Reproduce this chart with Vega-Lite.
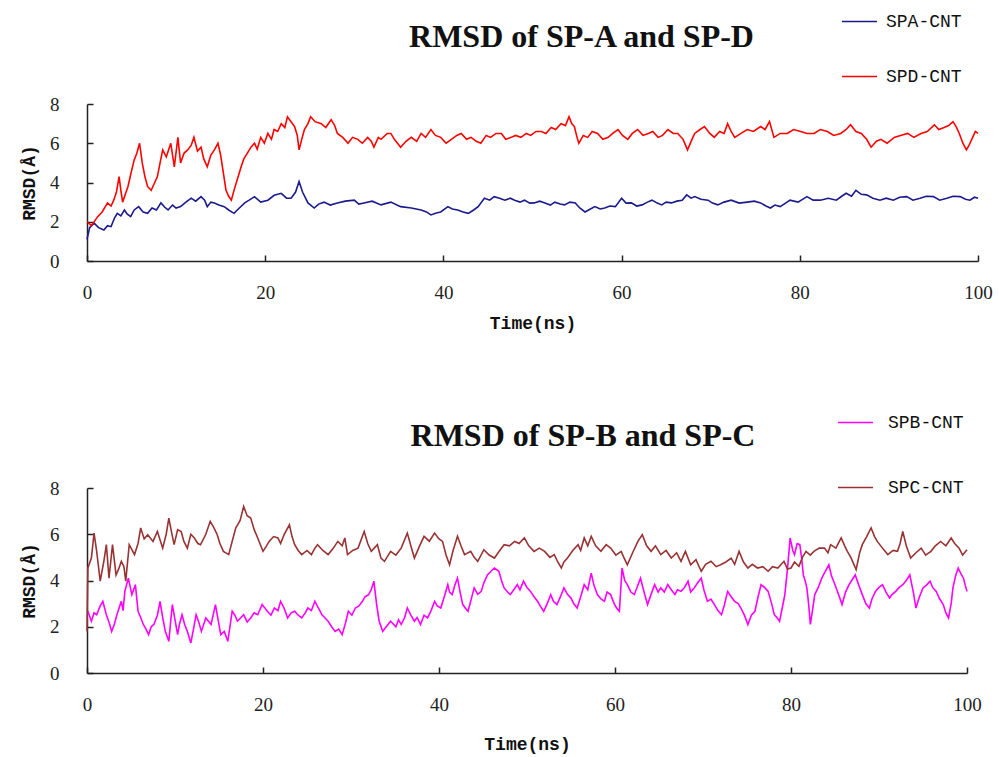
{
"$schema": "https://vega.github.io/schema/vega-lite/v6.json",
"background": "white",
"padding": {"left": 20, "top": 3, "right": 5, "bottom": 5},
"spacing": 72,
"config": {
 "view": {"stroke": null},
 "axis": {"grid": false, "domainColor": "#222", "domainWidth": 1.5, "tickColor": "#222", "tickWidth": 1.5, "tickSize": -6, "labelFont": "Liberation Serif", "labelFontSize": 19, "labelColor": "#222", "titleFont": "Liberation Mono", "titleFontWeight": "bold", "titleFontSize": 18, "titleColor": "#111"},
 "axisX": {"labelPadding": 28, "titlePadding": 12, "labelFlush": false},
 "axisY": {"labelPadding": 34, "titlePadding": 11},
 "title": {"font": "Liberation Serif", "fontSize": 32, "fontWeight": "bold", "color": "#111", "frame": "group"}
},
"resolve": {"scale": {"color": "independent"}},
"vconcat": [
{
 "width": 891, "height": 157,
 "title": {"text": "RMSD of SP-A and SP-D", "dx": 49, "offset": -51},
 "data": {"values": [
{"s":"SPA-CNT","t":0,"v":1.1},{"s":"SPA-CNT","t":0.3,"v":1.7},{"s":"SPA-CNT","t":0.8,"v":1.93},{"s":"SPA-CNT","t":1.3,"v":1.7},{"s":"SPA-CNT","t":1.9,"v":1.58},{"s":"SPA-CNT","t":2.3,"v":1.8},{"s":"SPA-CNT","t":2.7,"v":1.75},{"s":"SPA-CNT","t":3.1,"v":2.2},{"s":"SPA-CNT","t":3.4,"v":2.43},{"s":"SPA-CNT","t":3.8,"v":2.3},{"s":"SPA-CNT","t":4.2,"v":2.6},{"s":"SPA-CNT","t":4.5,"v":2.4},{"s":"SPA-CNT","t":4.9,"v":2.26},{"s":"SPA-CNT","t":5.3,"v":2.6},{"s":"SPA-CNT","t":5.8,"v":2.77},{"s":"SPA-CNT","t":6.3,"v":2.5},{"s":"SPA-CNT","t":6.8,"v":2.43},{"s":"SPA-CNT","t":7.3,"v":2.7},{"s":"SPA-CNT","t":7.8,"v":2.6},{"s":"SPA-CNT","t":8.3,"v":2.96},{"s":"SPA-CNT","t":8.7,"v":2.75},{"s":"SPA-CNT","t":9.1,"v":2.6},{"s":"SPA-CNT","t":9.6,"v":2.85},{"s":"SPA-CNT","t":10.0,"v":2.7},{"s":"SPA-CNT","t":10.5,"v":2.77},{"s":"SPA-CNT","t":11.1,"v":3.0},{"s":"SPA-CNT","t":11.7,"v":3.2},{"s":"SPA-CNT","t":12.2,"v":3.05},{"s":"SPA-CNT","t":12.8,"v":3.28},{"s":"SPA-CNT","t":13.2,"v":3.1},{"s":"SPA-CNT","t":13.5,"v":2.77},{"s":"SPA-CNT","t":13.9,"v":3.0},{"s":"SPA-CNT","t":14.3,"v":2.96},{"s":"SPA-CNT","t":14.8,"v":2.85},{"s":"SPA-CNT","t":15.4,"v":2.77},{"s":"SPA-CNT","t":15.9,"v":2.6},{"s":"SPA-CNT","t":16.5,"v":2.43},{"s":"SPA-CNT","t":17.1,"v":2.7},{"s":"SPA-CNT","t":17.7,"v":2.96},{"s":"SPA-CNT","t":18.2,"v":3.1},{"s":"SPA-CNT","t":18.8,"v":3.28},{"s":"SPA-CNT","t":19.5,"v":3.0},{"s":"SPA-CNT","t":20.3,"v":3.1},{"s":"SPA-CNT","t":21.0,"v":3.35},{"s":"SPA-CNT","t":21.8,"v":3.45},{"s":"SPA-CNT","t":22.4,"v":3.2},{"s":"SPA-CNT","t":22.9,"v":3.2},{"s":"SPA-CNT","t":23.4,"v":3.5},{"s":"SPA-CNT","t":23.8,"v":4.05},{"s":"SPA-CNT","t":24.2,"v":3.5},{"s":"SPA-CNT","t":24.8,"v":2.96},{"s":"SPA-CNT","t":25.5,"v":2.7},{"s":"SPA-CNT","t":26.0,"v":2.9},{"s":"SPA-CNT","t":26.6,"v":3.0},{"s":"SPA-CNT","t":27.3,"v":2.85},{"s":"SPA-CNT","t":28.1,"v":2.96},{"s":"SPA-CNT","t":29.0,"v":3.05},{"s":"SPA-CNT","t":30.0,"v":3.1},{"s":"SPA-CNT","t":30.5,"v":2.9},{"s":"SPA-CNT","t":31.1,"v":2.96},{"s":"SPA-CNT","t":32.0,"v":3.05},{"s":"SPA-CNT","t":33.0,"v":2.86},{"s":"SPA-CNT","t":34.1,"v":3.0},{"s":"SPA-CNT","t":35.2,"v":2.77},{"s":"SPA-CNT","t":36.4,"v":2.7},{"s":"SPA-CNT","t":37.5,"v":2.6},{"s":"SPA-CNT","t":38.1,"v":2.5},{"s":"SPA-CNT","t":38.6,"v":2.35},{"s":"SPA-CNT","t":39.2,"v":2.45},{"s":"SPA-CNT","t":39.7,"v":2.5},{"s":"SPA-CNT","t":40.5,"v":2.77},{"s":"SPA-CNT","t":41.0,"v":2.65},{"s":"SPA-CNT","t":41.6,"v":2.6},{"s":"SPA-CNT","t":42.2,"v":2.5},{"s":"SPA-CNT","t":42.8,"v":2.43},{"s":"SPA-CNT","t":43.4,"v":2.6},{"s":"SPA-CNT","t":43.9,"v":2.77},{"s":"SPA-CNT","t":44.6,"v":3.2},{"s":"SPA-CNT","t":45.2,"v":3.1},{"s":"SPA-CNT","t":45.7,"v":3.28},{"s":"SPA-CNT","t":46.3,"v":3.2},{"s":"SPA-CNT","t":46.9,"v":3.1},{"s":"SPA-CNT","t":47.5,"v":3.2},{"s":"SPA-CNT","t":48.0,"v":3.1},{"s":"SPA-CNT","t":48.6,"v":3.0},{"s":"SPA-CNT","t":49.1,"v":3.1},{"s":"SPA-CNT","t":49.7,"v":2.95},{"s":"SPA-CNT","t":50.2,"v":2.96},{"s":"SPA-CNT","t":50.8,"v":3.05},{"s":"SPA-CNT","t":51.4,"v":2.96},{"s":"SPA-CNT","t":52.0,"v":2.85},{"s":"SPA-CNT","t":52.5,"v":3.0},{"s":"SPA-CNT","t":53.1,"v":2.9},{"s":"SPA-CNT","t":53.6,"v":2.86},{"s":"SPA-CNT","t":54.2,"v":3.0},{"s":"SPA-CNT","t":54.8,"v":2.96},{"s":"SPA-CNT","t":55.3,"v":2.7},{"s":"SPA-CNT","t":55.9,"v":2.5},{"s":"SPA-CNT","t":56.5,"v":2.65},{"s":"SPA-CNT","t":57.0,"v":2.77},{"s":"SPA-CNT","t":57.6,"v":2.65},{"s":"SPA-CNT","t":58.1,"v":2.7},{"s":"SPA-CNT","t":58.7,"v":2.8},{"s":"SPA-CNT","t":59.3,"v":2.77},{"s":"SPA-CNT","t":60.0,"v":3.2},{"s":"SPA-CNT","t":60.5,"v":2.95},{"s":"SPA-CNT","t":61.1,"v":2.96},{"s":"SPA-CNT","t":61.7,"v":2.8},{"s":"SPA-CNT","t":62.3,"v":2.86},{"s":"SPA-CNT","t":62.9,"v":3.0},{"s":"SPA-CNT","t":63.4,"v":3.1},{"s":"SPA-CNT","t":64.0,"v":2.95},{"s":"SPA-CNT","t":64.5,"v":2.86},{"s":"SPA-CNT","t":65.0,"v":3.0},{"s":"SPA-CNT","t":65.6,"v":2.96},{"s":"SPA-CNT","t":66.2,"v":3.05},{"s":"SPA-CNT","t":66.8,"v":3.1},{"s":"SPA-CNT","t":67.3,"v":3.37},{"s":"SPA-CNT","t":67.8,"v":3.2},{"s":"SPA-CNT","t":68.2,"v":3.28},{"s":"SPA-CNT","t":68.9,"v":3.15},{"s":"SPA-CNT","t":69.7,"v":3.1},{"s":"SPA-CNT","t":70.2,"v":2.95},{"s":"SPA-CNT","t":70.8,"v":2.86},{"s":"SPA-CNT","t":71.5,"v":3.0},{"s":"SPA-CNT","t":72.3,"v":3.1},{"s":"SPA-CNT","t":73.2,"v":2.95},{"s":"SPA-CNT","t":74.1,"v":3.0},{"s":"SPA-CNT","t":74.9,"v":3.05},{"s":"SPA-CNT","t":75.6,"v":2.96},{"s":"SPA-CNT","t":76.2,"v":2.8},{"s":"SPA-CNT","t":76.7,"v":2.7},{"s":"SPA-CNT","t":77.2,"v":2.85},{"s":"SPA-CNT","t":77.8,"v":2.77},{"s":"SPA-CNT","t":78.4,"v":2.95},{"s":"SPA-CNT","t":78.9,"v":3.1},{"s":"SPA-CNT","t":79.8,"v":3.0},{"s":"SPA-CNT","t":80.8,"v":3.28},{"s":"SPA-CNT","t":81.5,"v":3.1},{"s":"SPA-CNT","t":82.3,"v":3.1},{"s":"SPA-CNT","t":83.2,"v":3.2},{"s":"SPA-CNT","t":84.1,"v":3.1},{"s":"SPA-CNT","t":84.7,"v":3.3},{"s":"SPA-CNT","t":85.2,"v":3.45},{"s":"SPA-CNT","t":85.8,"v":3.3},{"s":"SPA-CNT","t":86.3,"v":3.6},{"s":"SPA-CNT","t":86.9,"v":3.4},{"s":"SPA-CNT","t":87.5,"v":3.37},{"s":"SPA-CNT","t":88.2,"v":3.2},{"s":"SPA-CNT","t":89.0,"v":3.1},{"s":"SPA-CNT","t":89.7,"v":3.2},{"s":"SPA-CNT","t":90.5,"v":3.1},{"s":"SPA-CNT","t":91.2,"v":3.25},{"s":"SPA-CNT","t":92.0,"v":3.28},{"s":"SPA-CNT","t":92.7,"v":3.1},{"s":"SPA-CNT","t":93.5,"v":3.2},{"s":"SPA-CNT","t":94.2,"v":3.3},{"s":"SPA-CNT","t":95.0,"v":3.28},{"s":"SPA-CNT","t":95.7,"v":3.1},{"s":"SPA-CNT","t":96.5,"v":3.2},{"s":"SPA-CNT","t":97.2,"v":3.3},{"s":"SPA-CNT","t":98.0,"v":3.28},{"s":"SPA-CNT","t":98.6,"v":3.15},{"s":"SPA-CNT","t":99.1,"v":3.1},{"s":"SPA-CNT","t":99.6,"v":3.25},{"s":"SPA-CNT","t":100,"v":3.2},
{"s":"SPD-CNT","t":0,"v":2.0},{"s":"SPD-CNT","t":0.5,"v":1.8},{"s":"SPD-CNT","t":1.2,"v":2.26},{"s":"SPD-CNT","t":1.7,"v":2.5},{"s":"SPD-CNT","t":2.3,"v":2.96},{"s":"SPD-CNT","t":2.7,"v":2.8},{"s":"SPD-CNT","t":3.0,"v":3.1},{"s":"SPD-CNT","t":3.3,"v":3.5},{"s":"SPD-CNT","t":3.6,"v":4.3},{"s":"SPD-CNT","t":3.8,"v":3.6},{"s":"SPD-CNT","t":4.0,"v":3.0},{"s":"SPD-CNT","t":4.3,"v":3.4},{"s":"SPD-CNT","t":4.6,"v":3.8},{"s":"SPD-CNT","t":5.0,"v":4.6},{"s":"SPD-CNT","t":5.3,"v":5.15},{"s":"SPD-CNT","t":5.6,"v":5.5},{"s":"SPD-CNT","t":5.9,"v":6.0},{"s":"SPD-CNT","t":6.2,"v":5.0},{"s":"SPD-CNT","t":6.5,"v":4.3},{"s":"SPD-CNT","t":6.8,"v":3.8},{"s":"SPD-CNT","t":7.2,"v":3.6},{"s":"SPD-CNT","t":7.5,"v":3.9},{"s":"SPD-CNT","t":7.9,"v":4.3},{"s":"SPD-CNT","t":8.2,"v":5.0},{"s":"SPD-CNT","t":8.5,"v":5.66},{"s":"SPD-CNT","t":8.9,"v":5.3},{"s":"SPD-CNT","t":9.4,"v":6.0},{"s":"SPD-CNT","t":9.8,"v":4.8},{"s":"SPD-CNT","t":10.2,"v":6.3},{"s":"SPD-CNT","t":10.5,"v":5.0},{"s":"SPD-CNT","t":10.9,"v":5.5},{"s":"SPD-CNT","t":11.3,"v":5.66},{"s":"SPD-CNT","t":11.7,"v":5.9},{"s":"SPD-CNT","t":12.0,"v":6.3},{"s":"SPD-CNT","t":12.4,"v":5.6},{"s":"SPD-CNT","t":12.8,"v":5.8},{"s":"SPD-CNT","t":13.1,"v":5.2},{"s":"SPD-CNT","t":13.5,"v":4.8},{"s":"SPD-CNT","t":13.9,"v":5.4},{"s":"SPD-CNT","t":14.3,"v":5.66},{"s":"SPD-CNT","t":14.7,"v":6.0},{"s":"SPD-CNT","t":15.0,"v":5.4},{"s":"SPD-CNT","t":15.2,"v":4.8},{"s":"SPD-CNT","t":15.6,"v":3.6},{"s":"SPD-CNT","t":15.9,"v":3.3},{"s":"SPD-CNT","t":16.2,"v":3.1},{"s":"SPD-CNT","t":16.5,"v":3.6},{"s":"SPD-CNT","t":16.9,"v":4.2},{"s":"SPD-CNT","t":17.3,"v":4.8},{"s":"SPD-CNT","t":17.6,"v":5.2},{"s":"SPD-CNT","t":18.0,"v":5.5},{"s":"SPD-CNT","t":18.4,"v":5.8},{"s":"SPD-CNT","t":18.8,"v":6.0},{"s":"SPD-CNT","t":19.1,"v":5.7},{"s":"SPD-CNT","t":19.5,"v":6.3},{"s":"SPD-CNT","t":19.9,"v":6.0},{"s":"SPD-CNT","t":20.3,"v":6.5},{"s":"SPD-CNT","t":20.7,"v":6.2},{"s":"SPD-CNT","t":21.0,"v":6.7},{"s":"SPD-CNT","t":21.4,"v":6.6},{"s":"SPD-CNT","t":21.8,"v":7.0},{"s":"SPD-CNT","t":22.2,"v":6.8},{"s":"SPD-CNT","t":22.5,"v":7.35},{"s":"SPD-CNT","t":22.9,"v":7.1},{"s":"SPD-CNT","t":23.3,"v":6.85},{"s":"SPD-CNT","t":23.6,"v":6.4},{"s":"SPD-CNT","t":23.8,"v":5.66},{"s":"SPD-CNT","t":24.1,"v":6.2},{"s":"SPD-CNT","t":24.4,"v":6.7},{"s":"SPD-CNT","t":24.8,"v":7.0},{"s":"SPD-CNT","t":25.1,"v":7.35},{"s":"SPD-CNT","t":25.6,"v":7.1},{"s":"SPD-CNT","t":26.3,"v":7.0},{"s":"SPD-CNT","t":26.8,"v":6.8},{"s":"SPD-CNT","t":27.4,"v":7.2},{"s":"SPD-CNT","t":27.8,"v":6.9},{"s":"SPD-CNT","t":28.1,"v":6.5},{"s":"SPD-CNT","t":28.7,"v":6.3},{"s":"SPD-CNT","t":29.3,"v":6.0},{"s":"SPD-CNT","t":29.8,"v":6.3},{"s":"SPD-CNT","t":30.4,"v":6.2},{"s":"SPD-CNT","t":30.9,"v":6.0},{"s":"SPD-CNT","t":31.5,"v":6.3},{"s":"SPD-CNT","t":31.9,"v":6.1},{"s":"SPD-CNT","t":32.2,"v":5.8},{"s":"SPD-CNT","t":32.7,"v":6.3},{"s":"SPD-CNT","t":33.0,"v":6.2},{"s":"SPD-CNT","t":33.7,"v":6.5},{"s":"SPD-CNT","t":34.1,"v":6.5},{"s":"SPD-CNT","t":34.5,"v":6.2},{"s":"SPD-CNT","t":35.2,"v":5.8},{"s":"SPD-CNT","t":35.8,"v":6.1},{"s":"SPD-CNT","t":36.4,"v":6.3},{"s":"SPD-CNT","t":37.0,"v":6.1},{"s":"SPD-CNT","t":37.5,"v":6.5},{"s":"SPD-CNT","t":38.0,"v":6.3},{"s":"SPD-CNT","t":38.6,"v":6.7},{"s":"SPD-CNT","t":39.1,"v":6.4},{"s":"SPD-CNT","t":39.7,"v":6.3},{"s":"SPD-CNT","t":40.3,"v":6.0},{"s":"SPD-CNT","t":40.9,"v":6.2},{"s":"SPD-CNT","t":41.5,"v":6.4},{"s":"SPD-CNT","t":42.0,"v":6.5},{"s":"SPD-CNT","t":42.6,"v":6.2},{"s":"SPD-CNT","t":43.1,"v":6.3},{"s":"SPD-CNT","t":43.7,"v":6.1},{"s":"SPD-CNT","t":44.2,"v":6.0},{"s":"SPD-CNT","t":44.8,"v":6.4},{"s":"SPD-CNT","t":45.3,"v":6.3},{"s":"SPD-CNT","t":45.9,"v":6.5},{"s":"SPD-CNT","t":46.5,"v":6.5},{"s":"SPD-CNT","t":47.0,"v":6.2},{"s":"SPD-CNT","t":47.6,"v":6.3},{"s":"SPD-CNT","t":48.1,"v":6.4},{"s":"SPD-CNT","t":48.7,"v":6.3},{"s":"SPD-CNT","t":49.3,"v":6.5},{"s":"SPD-CNT","t":49.8,"v":6.4},{"s":"SPD-CNT","t":50.4,"v":6.6},{"s":"SPD-CNT","t":51.0,"v":6.6},{"s":"SPD-CNT","t":51.5,"v":6.5},{"s":"SPD-CNT","t":52.1,"v":6.8},{"s":"SPD-CNT","t":52.6,"v":6.7},{"s":"SPD-CNT","t":53.2,"v":7.0},{"s":"SPD-CNT","t":53.7,"v":6.9},{"s":"SPD-CNT","t":54.1,"v":7.35},{"s":"SPD-CNT","t":54.4,"v":7.0},{"s":"SPD-CNT","t":54.7,"v":6.85},{"s":"SPD-CNT","t":55.0,"v":6.3},{"s":"SPD-CNT","t":55.2,"v":6.0},{"s":"SPD-CNT","t":55.7,"v":6.4},{"s":"SPD-CNT","t":56.2,"v":6.3},{"s":"SPD-CNT","t":56.7,"v":6.6},{"s":"SPD-CNT","t":57.3,"v":6.5},{"s":"SPD-CNT","t":57.9,"v":6.2},{"s":"SPD-CNT","t":58.5,"v":6.3},{"s":"SPD-CNT","t":59.0,"v":6.5},{"s":"SPD-CNT","t":59.6,"v":6.7},{"s":"SPD-CNT","t":60.1,"v":6.4},{"s":"SPD-CNT","t":60.7,"v":6.2},{"s":"SPD-CNT","t":61.2,"v":6.5},{"s":"SPD-CNT","t":61.8,"v":6.7},{"s":"SPD-CNT","t":62.4,"v":6.4},{"s":"SPD-CNT","t":63.0,"v":6.5},{"s":"SPD-CNT","t":63.5,"v":6.6},{"s":"SPD-CNT","t":64.1,"v":6.3},{"s":"SPD-CNT","t":64.6,"v":6.4},{"s":"SPD-CNT","t":65.2,"v":6.7},{"s":"SPD-CNT","t":65.8,"v":6.5},{"s":"SPD-CNT","t":66.3,"v":6.5},{"s":"SPD-CNT","t":66.9,"v":6.2},{"s":"SPD-CNT","t":67.4,"v":5.66},{"s":"SPD-CNT","t":67.9,"v":6.2},{"s":"SPD-CNT","t":68.2,"v":6.5},{"s":"SPD-CNT","t":68.8,"v":6.7},{"s":"SPD-CNT","t":69.3,"v":6.85},{"s":"SPD-CNT","t":69.9,"v":6.5},{"s":"SPD-CNT","t":70.4,"v":6.3},{"s":"SPD-CNT","t":71.0,"v":6.6},{"s":"SPD-CNT","t":71.5,"v":6.5},{"s":"SPD-CNT","t":71.9,"v":7.0},{"s":"SPD-CNT","t":72.3,"v":6.6},{"s":"SPD-CNT","t":72.7,"v":6.3},{"s":"SPD-CNT","t":73.4,"v":6.5},{"s":"SPD-CNT","t":74.1,"v":6.7},{"s":"SPD-CNT","t":74.8,"v":6.6},{"s":"SPD-CNT","t":75.6,"v":6.85},{"s":"SPD-CNT","t":76.1,"v":6.7},{"s":"SPD-CNT","t":76.6,"v":7.1},{"s":"SPD-CNT","t":77.1,"v":6.3},{"s":"SPD-CNT","t":77.8,"v":6.5},{"s":"SPD-CNT","t":78.6,"v":6.5},{"s":"SPD-CNT","t":79.3,"v":6.7},{"s":"SPD-CNT","t":80.1,"v":6.6},{"s":"SPD-CNT","t":80.8,"v":6.5},{"s":"SPD-CNT","t":81.6,"v":6.5},{"s":"SPD-CNT","t":82.3,"v":6.7},{"s":"SPD-CNT","t":83.1,"v":6.6},{"s":"SPD-CNT","t":83.8,"v":6.4},{"s":"SPD-CNT","t":84.6,"v":6.5},{"s":"SPD-CNT","t":85.2,"v":6.7},{"s":"SPD-CNT","t":85.7,"v":6.94},{"s":"SPD-CNT","t":86.3,"v":6.6},{"s":"SPD-CNT","t":86.9,"v":6.5},{"s":"SPD-CNT","t":87.5,"v":6.2},{"s":"SPD-CNT","t":88.0,"v":5.8},{"s":"SPD-CNT","t":88.6,"v":6.1},{"s":"SPD-CNT","t":89.1,"v":6.2},{"s":"SPD-CNT","t":89.8,"v":6.0},{"s":"SPD-CNT","t":90.6,"v":6.3},{"s":"SPD-CNT","t":91.3,"v":6.4},{"s":"SPD-CNT","t":92.1,"v":6.5},{"s":"SPD-CNT","t":92.8,"v":6.3},{"s":"SPD-CNT","t":93.6,"v":6.5},{"s":"SPD-CNT","t":94.3,"v":6.6},{"s":"SPD-CNT","t":95.1,"v":6.94},{"s":"SPD-CNT","t":95.6,"v":6.7},{"s":"SPD-CNT","t":96.2,"v":6.8},{"s":"SPD-CNT","t":96.7,"v":6.9},{"s":"SPD-CNT","t":97.2,"v":7.1},{"s":"SPD-CNT","t":97.6,"v":6.8},{"s":"SPD-CNT","t":97.9,"v":6.5},{"s":"SPD-CNT","t":98.3,"v":6.0},{"s":"SPD-CNT","t":98.7,"v":5.66},{"s":"SPD-CNT","t":99.0,"v":5.9},{"s":"SPD-CNT","t":99.4,"v":6.3},{"s":"SPD-CNT","t":99.7,"v":6.6},{"s":"SPD-CNT","t":100,"v":6.5}
 ]},
 "mark": {"type": "line", "strokeWidth": 1.6},
 "encoding": {
  "x": {"field": "t", "type": "quantitative", "scale": {"domain": [0, 100], "nice": false}, "axis": {"title": "Time(ns)", "values": [0, 20, 40, 60, 80, 100]}},
  "y": {"field": "v", "type": "quantitative", "scale": {"domain": [0, 8], "nice": false}, "axis": {"title": "RMSD(Å)", "values": [0, 2, 4, 6, 8]}},
  "color": {"field": "s", "type": "nominal", "scale": {"domain": ["SPA-CNT", "SPD-CNT"], "range": ["#1a1a8c", "#ff0000"]},
   "legend": {"orient": "none", "legendX": 754, "legendY": -101, "title": null, "symbolType": "stroke", "symbolSize": 1225, "symbolStrokeWidth": 1.5, "rowPadding": 27, "labelFont": "Liberation Mono", "labelFontSize": 18, "labelColor": "#111", "labelOffset": 8, "padding": 0}}
 }
},
{
 "width": 880, "height": 185,
 "title": {"text": "RMSD of SP-B and SP-C", "dx": 56, "offset": -49},
 "data": {"values": [
{"s":"SPB-CNT","t":0,"v":2.7},{"s":"SPB-CNT","t":0.1,"v":2.67},{"s":"SPB-CNT","t":0.5,"v":2.24},{"s":"SPB-CNT","t":0.8,"v":2.6},{"s":"SPB-CNT","t":1.1,"v":2.52},{"s":"SPB-CNT","t":1.5,"v":2.9},{"s":"SPB-CNT","t":1.8,"v":3.1},{"s":"SPB-CNT","t":2.2,"v":2.52},{"s":"SPB-CNT","t":2.5,"v":2.2},{"s":"SPB-CNT","t":2.8,"v":1.8},{"s":"SPB-CNT","t":3.1,"v":2.1},{"s":"SPB-CNT","t":3.4,"v":2.52},{"s":"SPB-CNT","t":3.9,"v":3.1},{"s":"SPB-CNT","t":4.1,"v":2.7},{"s":"SPB-CNT","t":4.3,"v":3.53},{"s":"SPB-CNT","t":4.7,"v":4.1},{"s":"SPB-CNT","t":5.1,"v":3.39},{"s":"SPB-CNT","t":5.5,"v":3.82},{"s":"SPB-CNT","t":5.8,"v":2.67},{"s":"SPB-CNT","t":6.1,"v":2.4},{"s":"SPB-CNT","t":6.4,"v":2.1},{"s":"SPB-CNT","t":6.7,"v":1.9},{"s":"SPB-CNT","t":7.0,"v":1.66},{"s":"SPB-CNT","t":7.3,"v":2.0},{"s":"SPB-CNT","t":7.6,"v":2.1},{"s":"SPB-CNT","t":8.0,"v":2.5},{"s":"SPB-CNT","t":8.3,"v":3.1},{"s":"SPB-CNT","t":8.6,"v":2.4},{"s":"SPB-CNT","t":8.9,"v":1.8},{"s":"SPB-CNT","t":9.3,"v":1.37},{"s":"SPB-CNT","t":9.5,"v":2.2},{"s":"SPB-CNT","t":9.7,"v":2.96},{"s":"SPB-CNT","t":10.0,"v":2.3},{"s":"SPB-CNT","t":10.3,"v":1.66},{"s":"SPB-CNT","t":10.5,"v":2.1},{"s":"SPB-CNT","t":10.8,"v":2.52},{"s":"SPB-CNT","t":11.1,"v":2.1},{"s":"SPB-CNT","t":11.4,"v":1.8},{"s":"SPB-CNT","t":11.8,"v":1.3},{"s":"SPB-CNT","t":12.1,"v":1.9},{"s":"SPB-CNT","t":12.4,"v":2.52},{"s":"SPB-CNT","t":12.7,"v":2.2},{"s":"SPB-CNT","t":13.0,"v":1.8},{"s":"SPB-CNT","t":13.5,"v":2.38},{"s":"SPB-CNT","t":14.1,"v":2.1},{"s":"SPB-CNT","t":14.6,"v":2.96},{"s":"SPB-CNT","t":14.9,"v":2.3},{"s":"SPB-CNT","t":15.2,"v":1.66},{"s":"SPB-CNT","t":15.6,"v":1.8},{"s":"SPB-CNT","t":16.0,"v":1.37},{"s":"SPB-CNT","t":16.5,"v":2.67},{"s":"SPB-CNT","t":16.8,"v":2.5},{"s":"SPB-CNT","t":17.1,"v":2.24},{"s":"SPB-CNT","t":17.5,"v":2.4},{"s":"SPB-CNT","t":17.8,"v":2.52},{"s":"SPB-CNT","t":18.2,"v":2.2},{"s":"SPB-CNT","t":18.6,"v":2.38},{"s":"SPB-CNT","t":19.0,"v":2.6},{"s":"SPB-CNT","t":19.4,"v":2.52},{"s":"SPB-CNT","t":19.9,"v":2.96},{"s":"SPB-CNT","t":20.5,"v":2.67},{"s":"SPB-CNT","t":20.9,"v":2.5},{"s":"SPB-CNT","t":21.3,"v":2.81},{"s":"SPB-CNT","t":21.7,"v":2.7},{"s":"SPB-CNT","t":22.0,"v":3.1},{"s":"SPB-CNT","t":22.4,"v":2.8},{"s":"SPB-CNT","t":22.8,"v":2.38},{"s":"SPB-CNT","t":23.2,"v":2.6},{"s":"SPB-CNT","t":23.6,"v":2.67},{"s":"SPB-CNT","t":24.0,"v":2.5},{"s":"SPB-CNT","t":24.4,"v":2.38},{"s":"SPB-CNT","t":24.8,"v":2.6},{"s":"SPB-CNT","t":25.1,"v":2.81},{"s":"SPB-CNT","t":25.5,"v":2.7},{"s":"SPB-CNT","t":25.9,"v":3.1},{"s":"SPB-CNT","t":26.3,"v":2.8},{"s":"SPB-CNT","t":26.7,"v":2.52},{"s":"SPB-CNT","t":27.0,"v":2.4},{"s":"SPB-CNT","t":27.4,"v":2.24},{"s":"SPB-CNT","t":27.8,"v":2.0},{"s":"SPB-CNT","t":28.2,"v":1.8},{"s":"SPB-CNT","t":28.6,"v":1.9},{"s":"SPB-CNT","t":29.0,"v":1.66},{"s":"SPB-CNT","t":29.4,"v":2.2},{"s":"SPB-CNT","t":29.7,"v":2.67},{"s":"SPB-CNT","t":30.1,"v":2.5},{"s":"SPB-CNT","t":30.5,"v":2.81},{"s":"SPB-CNT","t":30.9,"v":2.9},{"s":"SPB-CNT","t":31.3,"v":3.1},{"s":"SPB-CNT","t":31.6,"v":3.3},{"s":"SPB-CNT","t":32.0,"v":3.39},{"s":"SPB-CNT","t":32.3,"v":3.6},{"s":"SPB-CNT","t":32.6,"v":3.97},{"s":"SPB-CNT","t":32.9,"v":3.0},{"s":"SPB-CNT","t":33.2,"v":2.24},{"s":"SPB-CNT","t":33.6,"v":1.8},{"s":"SPB-CNT","t":33.9,"v":1.95},{"s":"SPB-CNT","t":34.2,"v":2.1},{"s":"SPB-CNT","t":34.5,"v":2.24},{"s":"SPB-CNT","t":35.1,"v":2.0},{"s":"SPB-CNT","t":35.4,"v":2.3},{"s":"SPB-CNT","t":35.7,"v":2.1},{"s":"SPB-CNT","t":36.1,"v":2.4},{"s":"SPB-CNT","t":36.4,"v":2.81},{"s":"SPB-CNT","t":36.8,"v":2.5},{"s":"SPB-CNT","t":37.2,"v":2.24},{"s":"SPB-CNT","t":37.5,"v":2.4},{"s":"SPB-CNT","t":37.9,"v":2.1},{"s":"SPB-CNT","t":38.3,"v":2.5},{"s":"SPB-CNT","t":38.7,"v":2.38},{"s":"SPB-CNT","t":39.1,"v":2.7},{"s":"SPB-CNT","t":39.5,"v":3.1},{"s":"SPB-CNT","t":39.8,"v":2.9},{"s":"SPB-CNT","t":40.2,"v":2.81},{"s":"SPB-CNT","t":40.6,"v":3.3},{"s":"SPB-CNT","t":41.0,"v":3.82},{"s":"SPB-CNT","t":41.2,"v":3.5},{"s":"SPB-CNT","t":41.5,"v":3.39},{"s":"SPB-CNT","t":41.8,"v":3.8},{"s":"SPB-CNT","t":42.1,"v":4.1},{"s":"SPB-CNT","t":42.4,"v":3.5},{"s":"SPB-CNT","t":42.7,"v":2.96},{"s":"SPB-CNT","t":43.0,"v":2.8},{"s":"SPB-CNT","t":43.3,"v":2.67},{"s":"SPB-CNT","t":43.6,"v":3.1},{"s":"SPB-CNT","t":44.0,"v":3.68},{"s":"SPB-CNT","t":44.4,"v":3.4},{"s":"SPB-CNT","t":44.8,"v":3.53},{"s":"SPB-CNT","t":45.1,"v":3.9},{"s":"SPB-CNT","t":45.5,"v":4.24},{"s":"SPB-CNT","t":45.9,"v":4.4},{"s":"SPB-CNT","t":46.3,"v":4.54},{"s":"SPB-CNT","t":46.8,"v":4.4},{"s":"SPB-CNT","t":47.1,"v":4.0},{"s":"SPB-CNT","t":47.4,"v":3.68},{"s":"SPB-CNT","t":47.8,"v":3.5},{"s":"SPB-CNT","t":48.1,"v":3.39},{"s":"SPB-CNT","t":48.5,"v":3.6},{"s":"SPB-CNT","t":48.9,"v":3.82},{"s":"SPB-CNT","t":49.2,"v":3.6},{"s":"SPB-CNT","t":49.6,"v":3.97},{"s":"SPB-CNT","t":50.0,"v":3.7},{"s":"SPB-CNT","t":50.4,"v":3.53},{"s":"SPB-CNT","t":50.8,"v":3.3},{"s":"SPB-CNT","t":51.2,"v":3.1},{"s":"SPB-CNT","t":51.5,"v":2.9},{"s":"SPB-CNT","t":51.9,"v":2.67},{"s":"SPB-CNT","t":52.3,"v":3.0},{"s":"SPB-CNT","t":52.7,"v":3.39},{"s":"SPB-CNT","t":53.0,"v":3.1},{"s":"SPB-CNT","t":53.4,"v":2.96},{"s":"SPB-CNT","t":53.8,"v":3.3},{"s":"SPB-CNT","t":54.2,"v":3.68},{"s":"SPB-CNT","t":54.6,"v":3.4},{"s":"SPB-CNT","t":55.0,"v":3.24},{"s":"SPB-CNT","t":55.3,"v":3.0},{"s":"SPB-CNT","t":55.7,"v":2.81},{"s":"SPB-CNT","t":56.1,"v":3.3},{"s":"SPB-CNT","t":56.5,"v":3.82},{"s":"SPB-CNT","t":56.9,"v":3.6},{"s":"SPB-CNT","t":57.3,"v":4.32},{"s":"SPB-CNT","t":57.6,"v":3.8},{"s":"SPB-CNT","t":58.0,"v":3.39},{"s":"SPB-CNT","t":58.4,"v":3.2},{"s":"SPB-CNT","t":58.8,"v":3.1},{"s":"SPB-CNT","t":59.1,"v":3.5},{"s":"SPB-CNT","t":59.5,"v":3.39},{"s":"SPB-CNT","t":59.9,"v":3.0},{"s":"SPB-CNT","t":60.2,"v":2.8},{"s":"SPB-CNT","t":60.5,"v":2.67},{"s":"SPB-CNT","t":60.8,"v":4.54},{"s":"SPB-CNT","t":61.1,"v":4.0},{"s":"SPB-CNT","t":61.4,"v":3.82},{"s":"SPB-CNT","t":61.8,"v":3.5},{"s":"SPB-CNT","t":62.2,"v":3.39},{"s":"SPB-CNT","t":62.5,"v":3.7},{"s":"SPB-CNT","t":62.9,"v":4.1},{"s":"SPB-CNT","t":63.3,"v":3.5},{"s":"SPB-CNT","t":63.7,"v":2.96},{"s":"SPB-CNT","t":64.1,"v":3.4},{"s":"SPB-CNT","t":64.5,"v":3.82},{"s":"SPB-CNT","t":64.9,"v":3.5},{"s":"SPB-CNT","t":65.2,"v":3.68},{"s":"SPB-CNT","t":65.6,"v":3.5},{"s":"SPB-CNT","t":66.0,"v":3.82},{"s":"SPB-CNT","t":66.4,"v":3.6},{"s":"SPB-CNT","t":66.8,"v":3.39},{"s":"SPB-CNT","t":67.1,"v":3.6},{"s":"SPB-CNT","t":67.5,"v":3.53},{"s":"SPB-CNT","t":67.9,"v":3.7},{"s":"SPB-CNT","t":68.3,"v":3.97},{"s":"SPB-CNT","t":68.6,"v":3.5},{"s":"SPB-CNT","t":69.0,"v":3.68},{"s":"SPB-CNT","t":69.4,"v":3.9},{"s":"SPB-CNT","t":69.8,"v":4.1},{"s":"SPB-CNT","t":70.1,"v":3.6},{"s":"SPB-CNT","t":70.5,"v":3.1},{"s":"SPB-CNT","t":70.9,"v":3.2},{"s":"SPB-CNT","t":71.3,"v":2.96},{"s":"SPB-CNT","t":71.7,"v":2.7},{"s":"SPB-CNT","t":72.1,"v":2.52},{"s":"SPB-CNT","t":72.4,"v":2.9},{"s":"SPB-CNT","t":72.8,"v":3.53},{"s":"SPB-CNT","t":73.2,"v":3.3},{"s":"SPB-CNT","t":73.6,"v":3.1},{"s":"SPB-CNT","t":74.0,"v":3.0},{"s":"SPB-CNT","t":74.3,"v":2.81},{"s":"SPB-CNT","t":74.7,"v":2.5},{"s":"SPB-CNT","t":75.1,"v":2.1},{"s":"SPB-CNT","t":75.5,"v":2.5},{"s":"SPB-CNT","t":75.9,"v":2.67},{"s":"SPB-CNT","t":76.2,"v":3.2},{"s":"SPB-CNT","t":76.6,"v":3.82},{"s":"SPB-CNT","t":77.0,"v":3.7},{"s":"SPB-CNT","t":77.4,"v":3.53},{"s":"SPB-CNT","t":77.8,"v":3.0},{"s":"SPB-CNT","t":78.1,"v":2.52},{"s":"SPB-CNT","t":78.4,"v":2.4},{"s":"SPB-CNT","t":78.7,"v":2.24},{"s":"SPB-CNT","t":79.0,"v":2.8},{"s":"SPB-CNT","t":79.3,"v":3.39},{"s":"SPB-CNT","t":79.6,"v":4.5},{"s":"SPB-CNT","t":79.9,"v":5.84},{"s":"SPB-CNT","t":80.2,"v":5.3},{"s":"SPB-CNT","t":80.4,"v":5.12},{"s":"SPB-CNT","t":80.7,"v":5.6},{"s":"SPB-CNT","t":81.0,"v":5.55},{"s":"SPB-CNT","t":81.2,"v":5.0},{"s":"SPB-CNT","t":81.4,"v":4.24},{"s":"SPB-CNT","t":81.6,"v":4.0},{"s":"SPB-CNT","t":81.8,"v":3.68},{"s":"SPB-CNT","t":82.0,"v":3.0},{"s":"SPB-CNT","t":82.2,"v":2.1},{"s":"SPB-CNT","t":82.4,"v":2.6},{"s":"SPB-CNT","t":82.7,"v":3.39},{"s":"SPB-CNT","t":83.1,"v":3.7},{"s":"SPB-CNT","t":83.5,"v":4.1},{"s":"SPB-CNT","t":83.9,"v":4.4},{"s":"SPB-CNT","t":84.3,"v":4.68},{"s":"SPB-CNT","t":84.6,"v":4.2},{"s":"SPB-CNT","t":85.0,"v":3.82},{"s":"SPB-CNT","t":85.4,"v":3.4},{"s":"SPB-CNT","t":85.8,"v":2.96},{"s":"SPB-CNT","t":86.2,"v":3.5},{"s":"SPB-CNT","t":86.6,"v":3.82},{"s":"SPB-CNT","t":86.9,"v":4.0},{"s":"SPB-CNT","t":87.3,"v":4.24},{"s":"SPB-CNT","t":87.7,"v":3.8},{"s":"SPB-CNT","t":88.1,"v":3.39},{"s":"SPB-CNT","t":88.5,"v":3.0},{"s":"SPB-CNT","t":88.9,"v":2.81},{"s":"SPB-CNT","t":89.2,"v":3.2},{"s":"SPB-CNT","t":89.6,"v":3.53},{"s":"SPB-CNT","t":90.0,"v":3.7},{"s":"SPB-CNT","t":90.4,"v":3.82},{"s":"SPB-CNT","t":90.8,"v":3.5},{"s":"SPB-CNT","t":91.2,"v":3.24},{"s":"SPB-CNT","t":91.5,"v":3.4},{"s":"SPB-CNT","t":91.9,"v":3.53},{"s":"SPB-CNT","t":92.3,"v":3.7},{"s":"SPB-CNT","t":92.7,"v":3.82},{"s":"SPB-CNT","t":93.1,"v":4.0},{"s":"SPB-CNT","t":93.5,"v":4.24},{"s":"SPB-CNT","t":93.9,"v":3.5},{"s":"SPB-CNT","t":94.2,"v":2.81},{"s":"SPB-CNT","t":94.6,"v":3.3},{"s":"SPB-CNT","t":95.0,"v":3.68},{"s":"SPB-CNT","t":95.4,"v":3.8},{"s":"SPB-CNT","t":95.8,"v":3.97},{"s":"SPB-CNT","t":96.1,"v":3.7},{"s":"SPB-CNT","t":96.5,"v":3.53},{"s":"SPB-CNT","t":96.9,"v":3.2},{"s":"SPB-CNT","t":97.3,"v":2.96},{"s":"SPB-CNT","t":97.6,"v":2.6},{"s":"SPB-CNT","t":97.9,"v":2.38},{"s":"SPB-CNT","t":98.2,"v":3.0},{"s":"SPB-CNT","t":98.4,"v":3.68},{"s":"SPB-CNT","t":98.7,"v":4.2},{"s":"SPB-CNT","t":99.0,"v":4.54},{"s":"SPB-CNT","t":99.3,"v":4.3},{"s":"SPB-CNT","t":99.6,"v":4.1},{"s":"SPB-CNT","t":99.8,"v":3.8},{"s":"SPB-CNT","t":100,"v":3.53},
{"s":"SPC-CNT","t":0,"v":1.8},{"s":"SPC-CNT","t":0.1,"v":4.54},{"s":"SPC-CNT","t":0.5,"v":4.97},{"s":"SPC-CNT","t":0.8,"v":6.05},{"s":"SPC-CNT","t":1.1,"v":5.26},{"s":"SPC-CNT","t":1.5,"v":3.97},{"s":"SPC-CNT","t":1.9,"v":4.8},{"s":"SPC-CNT","t":2.2,"v":5.55},{"s":"SPC-CNT","t":2.5,"v":4.1},{"s":"SPC-CNT","t":2.9,"v":5.55},{"s":"SPC-CNT","t":3.3,"v":4.24},{"s":"SPC-CNT","t":3.6,"v":4.5},{"s":"SPC-CNT","t":3.9,"v":4.83},{"s":"SPC-CNT","t":4.2,"v":4.6},{"s":"SPC-CNT","t":4.4,"v":3.97},{"s":"SPC-CNT","t":4.8,"v":5.55},{"s":"SPC-CNT","t":5.4,"v":5.12},{"s":"SPC-CNT","t":5.8,"v":5.6},{"s":"SPC-CNT","t":6.1,"v":6.27},{"s":"SPC-CNT","t":6.5,"v":5.8},{"s":"SPC-CNT","t":6.9,"v":5.98},{"s":"SPC-CNT","t":7.5,"v":5.69},{"s":"SPC-CNT","t":8.0,"v":6.12},{"s":"SPC-CNT","t":8.6,"v":5.4},{"s":"SPC-CNT","t":9.0,"v":6.0},{"s":"SPC-CNT","t":9.3,"v":6.7},{"s":"SPC-CNT","t":9.6,"v":6.1},{"s":"SPC-CNT","t":9.9,"v":5.55},{"s":"SPC-CNT","t":10.3,"v":6.2},{"s":"SPC-CNT","t":10.7,"v":6.12},{"s":"SPC-CNT","t":11.0,"v":5.7},{"s":"SPC-CNT","t":11.4,"v":5.4},{"s":"SPC-CNT","t":11.8,"v":6.0},{"s":"SPC-CNT","t":12.2,"v":5.84},{"s":"SPC-CNT","t":12.6,"v":5.6},{"s":"SPC-CNT","t":12.9,"v":5.55},{"s":"SPC-CNT","t":13.5,"v":6.0},{"s":"SPC-CNT","t":14.0,"v":6.56},{"s":"SPC-CNT","t":14.4,"v":6.3},{"s":"SPC-CNT","t":14.8,"v":5.98},{"s":"SPC-CNT","t":15.1,"v":5.6},{"s":"SPC-CNT","t":15.5,"v":5.26},{"s":"SPC-CNT","t":16.1,"v":5.12},{"s":"SPC-CNT","t":16.5,"v":5.7},{"s":"SPC-CNT","t":16.9,"v":6.27},{"s":"SPC-CNT","t":17.4,"v":6.6},{"s":"SPC-CNT","t":17.8,"v":7.2},{"s":"SPC-CNT","t":18.2,"v":6.8},{"s":"SPC-CNT","t":18.6,"v":6.7},{"s":"SPC-CNT","t":19.0,"v":6.2},{"s":"SPC-CNT","t":19.4,"v":5.84},{"s":"SPC-CNT","t":20.0,"v":5.26},{"s":"SPC-CNT","t":20.4,"v":5.5},{"s":"SPC-CNT","t":20.7,"v":5.69},{"s":"SPC-CNT","t":21.2,"v":5.9},{"s":"SPC-CNT","t":21.7,"v":5.84},{"s":"SPC-CNT","t":22.0,"v":5.6},{"s":"SPC-CNT","t":22.4,"v":5.98},{"s":"SPC-CNT","t":23.0,"v":6.41},{"s":"SPC-CNT","t":23.3,"v":5.9},{"s":"SPC-CNT","t":23.6,"v":5.55},{"s":"SPC-CNT","t":24.0,"v":5.3},{"s":"SPC-CNT","t":24.4,"v":5.12},{"s":"SPC-CNT","t":25.0,"v":5.3},{"s":"SPC-CNT","t":25.5,"v":5.12},{"s":"SPC-CNT","t":25.9,"v":5.4},{"s":"SPC-CNT","t":26.2,"v":5.55},{"s":"SPC-CNT","t":26.8,"v":5.3},{"s":"SPC-CNT","t":27.4,"v":5.12},{"s":"SPC-CNT","t":28.0,"v":5.4},{"s":"SPC-CNT","t":28.5,"v":5.69},{"s":"SPC-CNT","t":29.0,"v":5.5},{"s":"SPC-CNT","t":29.3,"v":5.84},{"s":"SPC-CNT","t":29.6,"v":5.12},{"s":"SPC-CNT","t":30.2,"v":5.3},{"s":"SPC-CNT","t":30.8,"v":5.4},{"s":"SPC-CNT","t":31.5,"v":6.12},{"s":"SPC-CNT","t":31.9,"v":5.6},{"s":"SPC-CNT","t":32.3,"v":5.26},{"s":"SPC-CNT","t":33.0,"v":5.55},{"s":"SPC-CNT","t":33.4,"v":4.97},{"s":"SPC-CNT","t":33.8,"v":4.83},{"s":"SPC-CNT","t":34.5,"v":5.26},{"s":"SPC-CNT","t":35.1,"v":5.1},{"s":"SPC-CNT","t":35.7,"v":5.4},{"s":"SPC-CNT","t":36.4,"v":6.05},{"s":"SPC-CNT","t":36.8,"v":5.5},{"s":"SPC-CNT","t":37.2,"v":4.97},{"s":"SPC-CNT","t":37.8,"v":5.5},{"s":"SPC-CNT","t":38.3,"v":5.91},{"s":"SPC-CNT","t":38.9,"v":5.7},{"s":"SPC-CNT","t":39.5,"v":6.05},{"s":"SPC-CNT","t":40.0,"v":5.8},{"s":"SPC-CNT","t":40.4,"v":5.69},{"s":"SPC-CNT","t":40.8,"v":5.1},{"s":"SPC-CNT","t":41.2,"v":4.68},{"s":"SPC-CNT","t":41.6,"v":5.3},{"s":"SPC-CNT","t":42.1,"v":5.91},{"s":"SPC-CNT","t":42.5,"v":5.5},{"s":"SPC-CNT","t":42.9,"v":5.12},{"s":"SPC-CNT","t":43.6,"v":5.26},{"s":"SPC-CNT","t":44.0,"v":5.0},{"s":"SPC-CNT","t":44.4,"v":4.83},{"s":"SPC-CNT","t":45.1,"v":5.33},{"s":"SPC-CNT","t":45.7,"v":5.1},{"s":"SPC-CNT","t":46.3,"v":4.97},{"s":"SPC-CNT","t":46.9,"v":5.3},{"s":"SPC-CNT","t":47.4,"v":5.55},{"s":"SPC-CNT","t":48.0,"v":5.5},{"s":"SPC-CNT","t":48.6,"v":5.69},{"s":"SPC-CNT","t":49.1,"v":5.6},{"s":"SPC-CNT","t":49.7,"v":5.84},{"s":"SPC-CNT","t":50.2,"v":5.5},{"s":"SPC-CNT","t":50.8,"v":5.26},{"s":"SPC-CNT","t":51.4,"v":5.4},{"s":"SPC-CNT","t":52.0,"v":5.26},{"s":"SPC-CNT","t":52.6,"v":5.0},{"s":"SPC-CNT","t":53.1,"v":5.12},{"s":"SPC-CNT","t":53.5,"v":4.8},{"s":"SPC-CNT","t":53.9,"v":4.54},{"s":"SPC-CNT","t":54.2,"v":4.8},{"s":"SPC-CNT","t":54.6,"v":4.97},{"s":"SPC-CNT","t":55.2,"v":5.3},{"s":"SPC-CNT","t":55.8,"v":5.55},{"s":"SPC-CNT","t":56.1,"v":5.3},{"s":"SPC-CNT","t":56.5,"v":5.84},{"s":"SPC-CNT","t":56.9,"v":5.5},{"s":"SPC-CNT","t":57.3,"v":5.91},{"s":"SPC-CNT","t":57.8,"v":5.5},{"s":"SPC-CNT","t":58.4,"v":5.26},{"s":"SPC-CNT","t":59.0,"v":5.55},{"s":"SPC-CNT","t":59.5,"v":5.4},{"s":"SPC-CNT","t":60.1,"v":5.1},{"s":"SPC-CNT","t":60.7,"v":5.26},{"s":"SPC-CNT","t":61.0,"v":5.0},{"s":"SPC-CNT","t":61.4,"v":4.68},{"s":"SPC-CNT","t":62.0,"v":5.2},{"s":"SPC-CNT","t":62.6,"v":5.69},{"s":"SPC-CNT","t":63.1,"v":5.98},{"s":"SPC-CNT","t":63.6,"v":5.5},{"s":"SPC-CNT","t":64.1,"v":5.26},{"s":"SPC-CNT","t":64.6,"v":5.5},{"s":"SPC-CNT","t":65.2,"v":5.12},{"s":"SPC-CNT","t":65.8,"v":5.3},{"s":"SPC-CNT","t":66.4,"v":4.97},{"s":"SPC-CNT","t":67.0,"v":5.2},{"s":"SPC-CNT","t":67.5,"v":4.83},{"s":"SPC-CNT","t":68.0,"v":5.26},{"s":"SPC-CNT","t":68.6,"v":4.68},{"s":"SPC-CNT","t":69.2,"v":4.9},{"s":"SPC-CNT","t":69.8,"v":4.4},{"s":"SPC-CNT","t":70.3,"v":4.7},{"s":"SPC-CNT","t":70.9,"v":4.83},{"s":"SPC-CNT","t":71.5,"v":4.6},{"s":"SPC-CNT","t":72.0,"v":4.68},{"s":"SPC-CNT","t":72.6,"v":4.8},{"s":"SPC-CNT","t":73.2,"v":4.97},{"s":"SPC-CNT","t":73.6,"v":4.7},{"s":"SPC-CNT","t":74.1,"v":5.26},{"s":"SPC-CNT","t":74.6,"v":4.8},{"s":"SPC-CNT","t":75.1,"v":4.54},{"s":"SPC-CNT","t":75.6,"v":4.7},{"s":"SPC-CNT","t":76.2,"v":4.54},{"s":"SPC-CNT","t":76.8,"v":4.6},{"s":"SPC-CNT","t":77.4,"v":4.4},{"s":"SPC-CNT","t":77.9,"v":4.6},{"s":"SPC-CNT","t":78.5,"v":4.54},{"s":"SPC-CNT","t":79.2,"v":4.83},{"s":"SPC-CNT","t":79.6,"v":4.5},{"s":"SPC-CNT","t":80.0,"v":4.54},{"s":"SPC-CNT","t":80.4,"v":4.8},{"s":"SPC-CNT","t":80.9,"v":4.61},{"s":"SPC-CNT","t":81.3,"v":5.0},{"s":"SPC-CNT","t":81.7,"v":5.26},{"s":"SPC-CNT","t":82.2,"v":5.1},{"s":"SPC-CNT","t":82.6,"v":5.26},{"s":"SPC-CNT","t":83.2,"v":5.4},{"s":"SPC-CNT","t":83.8,"v":5.4},{"s":"SPC-CNT","t":84.2,"v":5.2},{"s":"SPC-CNT","t":84.5,"v":5.55},{"s":"SPC-CNT","t":85.1,"v":5.4},{"s":"SPC-CNT","t":85.7,"v":5.84},{"s":"SPC-CNT","t":86.1,"v":5.5},{"s":"SPC-CNT","t":86.4,"v":5.26},{"s":"SPC-CNT","t":86.8,"v":5.0},{"s":"SPC-CNT","t":87.4,"v":4.47},{"s":"SPC-CNT","t":87.8,"v":5.2},{"s":"SPC-CNT","t":88.1,"v":5.55},{"s":"SPC-CNT","t":88.6,"v":5.9},{"s":"SPC-CNT","t":89.1,"v":6.27},{"s":"SPC-CNT","t":89.5,"v":5.9},{"s":"SPC-CNT","t":89.8,"v":5.69},{"s":"SPC-CNT","t":90.4,"v":5.4},{"s":"SPC-CNT","t":91.0,"v":5.12},{"s":"SPC-CNT","t":91.6,"v":5.3},{"s":"SPC-CNT","t":92.1,"v":5.26},{"s":"SPC-CNT","t":92.4,"v":5.6},{"s":"SPC-CNT","t":92.7,"v":6.12},{"s":"SPC-CNT","t":93.1,"v":5.5},{"s":"SPC-CNT","t":93.6,"v":4.97},{"s":"SPC-CNT","t":94.2,"v":5.2},{"s":"SPC-CNT","t":94.8,"v":5.4},{"s":"SPC-CNT","t":95.3,"v":5.1},{"s":"SPC-CNT","t":95.9,"v":5.26},{"s":"SPC-CNT","t":96.4,"v":5.5},{"s":"SPC-CNT","t":97.0,"v":5.69},{"s":"SPC-CNT","t":97.6,"v":5.5},{"s":"SPC-CNT","t":98.2,"v":5.84},{"s":"SPC-CNT","t":98.6,"v":5.6},{"s":"SPC-CNT","t":99.1,"v":5.4},{"s":"SPC-CNT","t":99.5,"v":5.1},{"s":"SPC-CNT","t":100,"v":5.33}
 ]},
 "mark": {"type": "line", "strokeWidth": 1.6},
 "encoding": {
  "x": {"field": "t", "type": "quantitative", "scale": {"domain": [0, 100], "nice": false}, "axis": {"title": "Time(ns)", "values": [0, 20, 40, 60, 80, 100], "titlePadding": 21}},
  "y": {"field": "v", "type": "quantitative", "scale": {"domain": [0, 8], "nice": false}, "axis": {"title": "RMSD(Å)", "values": [0, 2, 4, 6, 8]}},
  "color": {"field": "s", "type": "nominal", "scale": {"domain": ["SPB-CNT", "SPC-CNT"], "range": ["#ff00ff", "#993333"]},
   "legend": {"orient": "none", "legendX": 750, "legendY": -84, "title": null, "symbolType": "stroke", "symbolSize": 1225, "symbolStrokeWidth": 1.5, "rowPadding": 37, "labelFont": "Liberation Mono", "labelFontSize": 18, "labelColor": "#111", "labelOffset": 14, "padding": 0}}
 }
}
]
}
